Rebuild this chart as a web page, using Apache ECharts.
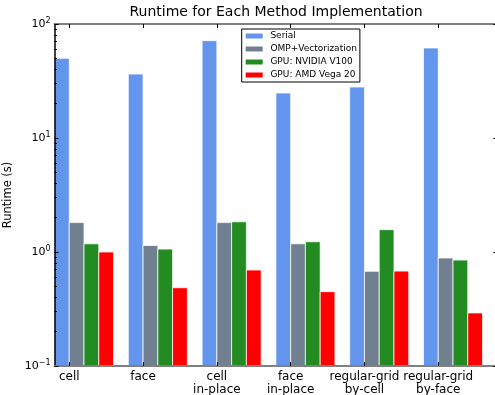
<!DOCTYPE html>
<html>
<head>
<meta charset="utf-8">
<style>
  html, body { margin: 0; padding: 0; background: #fff; }
  #chart { width: 495px; height: 395px; }
</style>
<script src="https://cdn.jsdelivr.net/npm/echarts@6/dist/echarts.min.js"></script>
</head>
<body>
<div id="chart"></div>
<script>
// ---- data ----
const categories = ['cell', 'face', 'cell\nin-place', 'face\nin-place', 'regular-grid\nby-cell', 'regular-grid\nby-face'];
const serial = [50.0, 36.4, 71.4, 24.8, 28.0, 61.6];
const ompVectorization = [1.81, 1.14, 1.81, 1.18, 0.677, 0.886];
const gpuNvidia = [1.18, 1.06, 1.84, 1.23, 1.57, 0.85];
const gpuAmd = [1.0, 0.486, 0.695, 0.449, 0.68, 0.292];
const seriesNames = ['Serial', 'OMP+Vectorization', 'GPU: NVIDIA V100', 'GPU: AMD Vega 20'];
const xTickPositions = [0, 1, 2, 3, 4, 5];
const yMajorTicks = [0.1, 1, 10, 100];
const yMinorTicks = [0.2, 0.3, 0.4, 0.5, 0.6, 0.7, 0.8, 0.9, 2, 3, 4, 5, 6, 7, 8, 9, 20, 30, 40, 50, 60, 70, 80, 90];

const colors = ['#6495ED', '#708090', '#228B22', '#FF0000'];
const FONT = 'DejaVu Sans';
const Y_MIN = 0.1;
const SLOTS = 5; // bar slots per category band (4 used)

const chart = echarts.init(document.getElementById('chart'), null, { renderer: 'canvas' });

function barSeries(k, data) {
  return {
    name: seriesNames[k], type: 'custom', xAxisIndex: 0, yAxisIndex: 0,
    data: data.map(function (v, i) { return [i, v]; }),
    itemStyle: { color: colors[k] },
    encode: { x: 0, y: 1 },
    clip: true,
    z: 1,
    renderItem: function (params, api) {
      const idx = api.value(0);
      const top = api.coord([idx, api.value(1)]);
      const bottom = api.coord([idx, Y_MIN]);
      const band = api.size([1, 0])[0];
      const w = band / SLOTS;
      const x0 = top[0] - band / 2 + k * w;
      return {
        type: 'rect',
        shape: { x: x0, y: top[1], width: w, height: bottom[1] - top[1] },
        style: { fill: colors[k], stroke: 'rgba(255,255,255,0.75)', lineWidth: 1 }
      };
    },
    emphasis: { disabled: true },
    animation: false
  };
}

const option = {
  animation: false,
  textStyle: { fontFamily: FONT },
  title: {
    text: 'Runtime for Each Method Implementation',
    left: 276, top: 5, textAlign: 'center', padding: 0,
    textStyle: { fontFamily: FONT, fontSize: 14, fontWeight: 'normal', color: '#000' }
  },
  legend: {
    data: seriesNames,
    orient: 'vertical', left: 241.7, top: 29, z: 10,
    padding: [2, 3, 2, 4], itemWidth: 17, itemHeight: 5, itemGap: 3,
    icon: 'rect', selectedMode: false,
    backgroundColor: '#fff', borderColor: '#000', borderWidth: 1, borderRadius: 0,
    itemStyle: { borderWidth: 0 },
    textStyle: { fontFamily: FONT, fontSize: 9, lineHeight: 10, color: '#000', padding: [0, 0, 0, 2.7] }
  },
  grid: { left: 54.5, right: -2.3, top: 24, bottom: 29, outerBoundsMode: 'none', containLabel: false },
  xAxis: [
    { type: 'category', data: categories, show: false, gridIndex: 0 },
    {
      type: 'value', position: 'bottom', min: -0.2, max: 5.8, gridIndex: 0, z: 5,
      axisLine: { show: true, onZero: false, lineStyle: { color: '#808080', width: 2 } },
      axisTick: { show: true, inside: true, length: 4, customValues: xTickPositions, lineStyle: { color: '#000', width: 1 } },
      axisLabel: {
        show: true, customValues: xTickPositions, margin: 4,
        formatter: function (v) { return categories[Math.round(v)]; },
        fontFamily: FONT, fontSize: 12, lineHeight: 13.5, color: '#000'
      },
      splitLine: { show: false }
    },
    {
      type: 'value', position: 'top', min: -0.2, max: 5.8, gridIndex: 0, z: 5,
      axisLine: { show: true, onZero: false, lineStyle: { color: '#808080', width: 2 } },
      axisTick: { show: true, inside: true, length: 4, customValues: xTickPositions, lineStyle: { color: '#000', width: 1 } },
      axisLabel: { show: false },
      splitLine: { show: false }
    }
  ],
  yAxis: [
    {
      type: 'log', logBase: 10, min: 0.1, max: 100, position: 'left', z: 5,
      name: 'Runtime (s)', nameLocation: 'middle', nameGap: 31, nameRotate: 90,
      nameTextStyle: { fontFamily: FONT, fontSize: 11.5, color: '#000' },
      axisLine: { show: true, onZero: false, lineStyle: { color: '#000', width: 1.5 } },
      axisTick: { show: true, inside: true, length: 4, customValues: yMajorTicks, lineStyle: { color: '#000', width: 1 } },
      axisLabel: {
        show: true, margin: 4, customValues: yMajorTicks,
        formatter: function (v) {
          const e = Math.round(Math.log10(v));
          return '{b|10}{s|' + (e < 0 ? '\u2212' + (-e) : e) + '}';
        },
        rich: {
          b: { fontFamily: FONT, fontSize: 11, color: '#000', lineHeight: 14 },
          s: { fontFamily: FONT, fontSize: 8, color: '#000', verticalAlign: 'top', lineHeight: 9 }
        }
      },
      splitLine: { show: false },
      minorTick: { show: false }
    },
    {
      type: 'log', logBase: 10, min: 0.1, max: 100, position: 'left', z: 5,
      axisLine: { show: false, onZero: false },
      axisTick: { show: true, inside: true, length: 2.5, customValues: yMinorTicks, lineStyle: { color: '#000', width: 1 } },
      axisLabel: { show: false },
      splitLine: { show: false }
    },
    {
      type: 'log', logBase: 10, min: 0.1, max: 100, position: 'right', z: 5,
      axisLine: { show: false, onZero: false },
      axisTick: { show: true, inside: true, length: 4, customValues: yMajorTicks, lineStyle: { color: '#000', width: 1 } },
      axisLabel: { show: false },
      splitLine: { show: false }
    }
  ],
  series: [
    barSeries(0, serial),
    barSeries(1, ompVectorization),
    barSeries(2, gpuNvidia),
    barSeries(3, gpuAmd)
  ]
};

chart.setOption(option);
</script>
</body>
</html>
